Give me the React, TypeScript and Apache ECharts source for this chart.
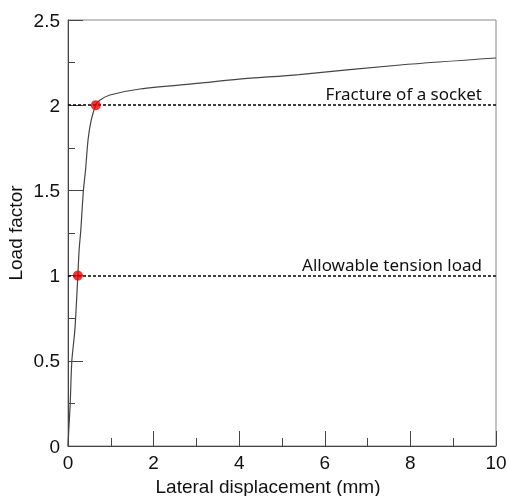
import React, { useEffect, useRef } from "react";
import * as echarts from "echarts";

const curveX = [0, 0.02, 0.05, 0.09, 0.16, 0.23, 0.26, 0.3, 0.36, 0.41, 0.47, 0.54, 0.65, 0.75, 0.98, 1.68, 3.08, 4.0, 5.4, 7.76, 10];
const curveY = [0, 0.1, 0.24, 0.5, 0.68, 1.0, 1.15, 1.27, 1.5, 1.62, 1.8, 1.91, 2.0, 2.03, 2.06, 2.095, 2.13, 2.153, 2.18, 2.236, 2.277];
const keyPointsX = [0.23, 0.65];
const keyPointsY = [1.0, 2.0];
const refLevels = [1, 2];
const refLabels = ["Allowable tension load", "Fracture of a socket"];

export default function App() {
  const ref = useRef<HTMLDivElement>(null);
  useEffect(() => {
    if (!ref.current) return;
    const chart = echarts.init(ref.current, undefined, { renderer: "svg" });
    const tickFont = { fontFamily: "Liberation Sans, Arial, sans-serif", fontSize: 19, color: "#111" };
    chart.setOption({
      animation: false,
      grid: {
        left: 68, right: 13, top: 20, bottom: 50,
        outerBoundsMode: "none", containLabel: false,
        show: true, borderColor: "#888", borderWidth: 1,
      },
      xAxis: {
        type: "value", min: 0, max: 10, interval: 2,
        name: "Lateral displacement (mm)", nameLocation: "middle", nameGap: 31,
        nameMoveOverlap: false,
        nameTextStyle: { fontFamily: "Liberation Sans, Arial, sans-serif", fontSize: 19, color: "#111", padding: [0, 28, 0, 0] },
        axisLine: { show: true, lineStyle: { color: "#444", width: 1 } },
        axisTick: { show: true, inside: true, length: 15, lineStyle: { color: "#444" } },
        minorTick: { show: true, splitNumber: 2, length: 8, lineStyle: { color: "#444" } },
        splitLine: { show: false },
        axisLabel: { ...tickFont, margin: 7 },
      },
      yAxis: {
        type: "value", min: 0, max: 2.5, interval: 0.5,
        name: "Load factor", nameLocation: "middle", nameGap: 43,
        nameMoveOverlap: false,
        nameTextStyle: { fontFamily: "Liberation Sans, Arial, sans-serif", fontSize: 19, color: "#111" },
        axisLine: { show: true, lineStyle: { color: "#444", width: 1 } },
        axisTick: { show: true, inside: true, length: 15, lineStyle: { color: "#444" } },
        minorTick: { show: true, splitNumber: 2, length: 7, lineStyle: { color: "#444" } },
        splitLine: { show: false },
        axisLabel: { ...tickFont, margin: 8 },
      },
      series: [
        {
          type: "line",
          data: curveX.map((x, i) => [x, curveY[i]]),
          showSymbol: false,
          smooth: 0.3,
          lineStyle: { color: "#444", width: 1.2 },
          markLine: {
            silent: true,
            symbol: "none",
            lineStyle: { color: "#000", type: [3, 2], width: 1.5 },
            label: {
              show: true,
              position: "insideEndTop",
              distance: [14, 3],
              fontFamily: "Noto Sans, sans-serif",
              fontSize: 17,
              color: "#111",
            },
            data: refLevels.map((v, i) => ({ yAxis: v, label: { formatter: refLabels[i] } })),
          },
          z: 2,
        },
        {
          type: "scatter",
          data: keyPointsX.map((x, i) => [x, keyPointsY[i]]),
          symbol: "circle",
          symbolSize: 10,
          itemStyle: { color: "#ee0000" },
          z: 5,
        },
      ],
    });
    return () => chart.dispose();
  }, []);
  return <div ref={ref} style={{ position: "fixed", left: 0, top: 0, width: 509, height: 496 }} />;
}
